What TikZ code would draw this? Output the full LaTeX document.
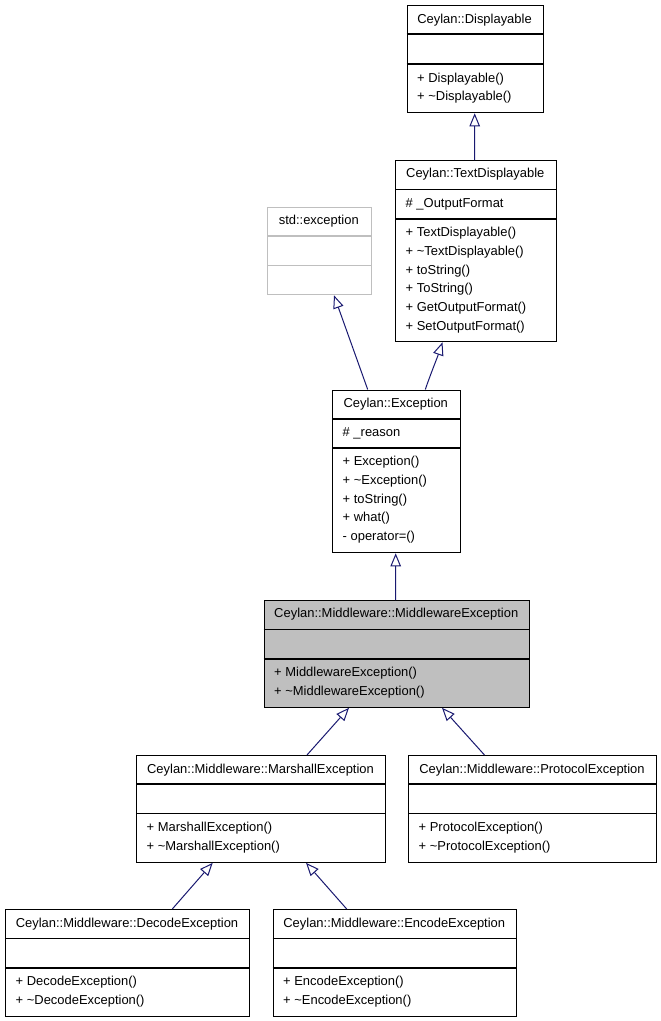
\documentclass[tikz,border=0pt]{standalone}
\usepackage{fontspec}
\setmainfont{Liberation Sans}
\usetikzlibrary{arrows.meta,calc}
\definecolor{edgeblue}{RGB}{25,25,112}
\definecolor{boxgray}{RGB}{191,191,191}
\tikzset{
  cls/.style={draw=black, line width=1.3bp, rectangle, inner sep=0pt, anchor=north west},
  div/.style={draw=black, line width=1.3bp},
  txt/.style={inner sep=0pt, anchor=base west, font=\fontsize{12.95bp}{15bp}\selectfont},
  ttl/.style={inner sep=0pt, anchor=base, font=\fontsize{12.95bp}{15bp}\selectfont},
  inh/.style={draw=edgeblue, line width=1bp, -{Triangle[open, length=13bp, width=10.5bp]}},
}
\newcommand{\tld}{\textasciitilde}
\begin{document}
\begin{tikzpicture}[x=1bp, y=-1bp]
\useasboundingbox (0,0) rectangle (661,1021);

% Ceylan::Displayable
\node[cls, minimum width=136bp, minimum height=107bp] (disp) at (406.5,5) {};
\draw[div] (406.5,34) -- (542.5,34);
\draw[div] (406.5,64) -- (542.5,64);
\node[ttl] (dispT) at (474.5,23.3) {Ceylan::Displayable};
\node[txt] (dispM1) at (417,82.2) {+ Displayable()};
\node[txt] (dispM2) at (417,100.9) {+ \tld Displayable()};

% Ceylan::TextDisplayable
\node[cls, minimum width=160.5bp, minimum height=181bp] (tdisp) at (395,160) {};
\draw[div] (395,189.5) -- (555.5,189.5);
\draw[div] (395,219) -- (555.5,219);
\node[ttl] (tdispT) at (475.25,177.6) {Ceylan::TextDisplayable};
\node[txt] (tdispA) at (405.5,207.6) {\# \_OutputFormat};
\node[txt] (tdispM1) at (405.5,236.6) {+ TextDisplayable()};
\node[txt] (tdispM2) at (405.5,255.3) {+ \tld TextDisplayable()};
\node[txt] (tdispM3) at (405.5,274) {+ toString()};
\node[txt] (tdispM4) at (405.5,292.7) {+ ToString()};
\node[txt] (tdispM5) at (405.5,311.4) {+ GetOutputFormat()};
\node[txt] (tdispM6) at (405.5,330.1) {+ SetOutputFormat()};

% std::exception
\node[cls, draw=boxgray, minimum width=103.5bp, minimum height=87.5bp] (stdex) at (267,206.5) {};
\draw[div, draw=boxgray] (267,236) -- (370.5,236);
\draw[div, draw=boxgray] (267,265.5) -- (370.5,265.5);
\node[ttl] (stdexT) at (318.75,224.9) {std::exception};

% Ceylan::Exception
\node[cls, minimum width=127.5bp, minimum height=162.5bp] (exc) at (332,389.5) {};
\draw[div] (332,419) -- (459.5,419);
\draw[div] (332,448) -- (459.5,448);
\node[ttl] (excT) at (395.75,407.6) {Ceylan::Exception};
\node[txt] (excA) at (342.5,436.6) {\# \_reason};
\node[txt] (excM1) at (342.5,465.6) {+ Exception()};
\node[txt] (excM2) at (342.5,484.3) {+ \tld Exception()};
\node[txt] (excM3) at (342.5,503) {+ toString()};
\node[txt] (excM4) at (342.5,521.7) {+ what()};
\node[txt] (excM5) at (342.5,540.4) {- operator=()};

% Ceylan::Middleware::MiddlewareException
\node[cls, fill=boxgray, minimum width=265.5bp, minimum height=106.5bp] (mw) at (263.5,600) {};
\draw[div] (263.5,629.5) -- (529,629.5);
\draw[div] (263.5,659) -- (529,659);
\node[ttl] (mwT) at (396.25,617.6) {Ceylan::Middleware::MiddlewareException};
\node[txt] (mwM1) at (274,676.6) {+ MiddlewareException()};
\node[txt] (mwM2) at (274,695.3) {+ \tld MiddlewareException()};

% Ceylan::Middleware::MarshallException
\node[cls, minimum width=249bp, minimum height=106.5bp] (mar) at (136,755) {};
\draw[div] (136,784) -- (385,784);
\draw[div] (136,813.5) -- (385,813.5);
\node[ttl] (marT) at (260.5,773.2) {Ceylan::Middleware::MarshallException};
\node[txt] (marM1) at (146.5,831.6) {+ MarshallException()};
\node[txt] (marM2) at (146.5,850.3) {+ \tld MarshallException()};

% Ceylan::Middleware::ProtocolException
\node[cls, minimum width=248bp, minimum height=106.5bp] (pro) at (408,755) {};
\draw[div] (408,784) -- (656,784);
\draw[div] (408,813.5) -- (656,813.5);
\node[ttl] (proT) at (532,773.2) {Ceylan::Middleware::ProtocolException};
\node[txt] (proM1) at (418.5,831.6) {+ ProtocolException()};
\node[txt] (proM2) at (418.5,850.3) {+ \tld ProtocolException()};

% Ceylan::Middleware::DecodeException
\node[cls, minimum width=244bp, minimum height=106.5bp] (dec) at (5,909) {};
\draw[div] (5,938.5) -- (249,938.5);
\draw[div] (5,968) -- (249,968);
\node[ttl] (decT) at (127,927.6) {Ceylan::Middleware::DecodeException};
\node[txt] (decM1) at (15.5,985.9) {+ DecodeException()};
\node[txt] (decM2) at (15.5,1004.6) {+ \tld DecodeException()};

% Ceylan::Middleware::EncodeException
\node[cls, minimum width=243.5bp, minimum height=106.5bp] (enc) at (272.5,909) {};
\draw[div] (272.5,938.5) -- (516,938.5);
\draw[div] (272.5,968) -- (516,968);
\node[ttl] (encT) at (394.25,927.6) {Ceylan::Middleware::EncodeException};
\node[txt] (encM1) at (283,985.9) {+ EncodeException()};
\node[txt] (encM2) at (283,1004.6) {+ \tld EncodeException()};

% inheritance connectors (child -> parent)
\draw[inh] ($(tdisp.north west)+(79.7,0)$) -- ($(disp.south west)+(68.2,0)$);
\draw[inh] ($(exc.north west)+(35.7,0)$) -- ($(stdex.south west)+(67,0)$);
\draw[inh] ($(exc.north west)+(93.3,0)$) .. controls ($(exc.north west)+(98,-14)$) and ($(tdisp.south west)+(42,16)$) .. ($(tdisp.south west)+(47.5,0)$);
\draw[inh] ($(mw.north west)+(132.2,0)$) -- ($(exc.south west)+(63.7,0)$);
\draw[inh] ($(mar.north west)+(171,0)$) -- ($(mw.south west)+(85.5,0)$);
\draw[inh] ($(pro.north west)+(76.5,0)$) -- ($(mw.south west)+(178.5,0)$);
\draw[inh] ($(dec.north west)+(167.3,0)$) -- ($(mar.south west)+(76.7,0)$);
\draw[inh] ($(enc.north west)+(74.2,0)$) -- ($(mar.south west)+(170,0)$);
\end{tikzpicture}
\end{document}
